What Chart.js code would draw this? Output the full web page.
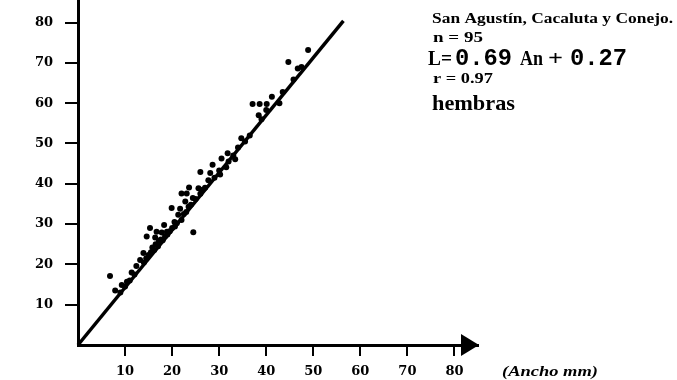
<!DOCTYPE html>
<html>
<head>
<meta charset="utf-8">
<script src="https://cdn.jsdelivr.net/npm/chart.js@4.4.1/dist/chart.umd.min.js"></script>
<style>
  body { margin: 0; background: #fff; }
  canvas { display: block; }
</style>
</head>
<body>
<canvas id="scatter_chart" width="677" height="380"></canvas>
<script>
// ancho (mm) vs largo
const ancho = [6.8, 7.9, 9.3, 10.0, 10.4, 11.4, 12.4, 13.2, 13.9, 14.6,
    15.3, 16.4, 16.7, 17.8, 18.9, 18.3, 20.6, 22.0, 21.3, 19.9,
    21.7, 23.5, 22.8, 24.4, 22.0, 23.1, 23.6, 25.6, 24.5, 27.7,
    26.0, 28.1, 30.2, 28.6, 31.5, 30.5, 33.4, 31.8, 34.7, 38.4,
    37.1, 38.6, 40.1, 40.0, 41.2, 42.8, 45.8, 46.7, 44.7, 48.9,
    14.0, 14.5, 15.0, 15.5, 15.8, 16.2, 16.5, 17.0, 17.2, 17.6,
    18.0, 18.5, 19.0, 19.5, 20.0, 20.5, 21.0, 22.5, 23.0, 24.0,
    25.0, 26.0, 27.0, 29.0, 30.0, 32.0, 33.0, 35.5, 36.5, 12.0,
    9.0, 11.0, 34.0, 39.0, 43.5, 47.5, 26.5];
const largo = [17.1, 13.5, 14.9, 14.5, 15.7, 18.0, 19.6, 21.1, 22.8, 26.9,
    29.0, 26.7, 28.1, 27.9, 28.1, 29.8, 29.4, 31.0, 32.3, 34.0,
    33.8, 34.3, 35.6, 36.5, 37.6, 37.6, 39.1, 38.9, 28.0, 40.9,
    42.9, 42.7, 42.3, 44.7, 44.1, 46.3, 46.1, 47.6, 51.3, 57.0,
    59.8, 59.8, 59.8, 58.3, 61.6, 60.0, 65.9, 68.6, 70.2, 73.2,
    20.5, 21.5, 22.3, 23.0, 24.2, 23.6, 25.0, 24.5, 25.8, 26.2,
    26.0, 27.0, 27.4, 28.2, 29.0, 30.5, 30.2, 32.5, 33.0, 34.8,
    36.2, 37.5, 39.0, 41.5, 43.3, 45.5, 47.0, 50.5, 52.0, 17.5,
    13.0, 16.0, 49.0, 56.0, 62.8, 69.0, 38.5];

// regression line end points
const rectaX = [0, 56.4];
const rectaY = [0, 80.4];

const xTicks = [10, 20, 30, 40, 50, 60, 70, 80];
const yTicks = [10, 20, 30, 40, 50, 60, 70, 80];

const serif = '"Liberation Serif", "Times New Roman", serif';
const mono = '"Liberation Mono", "Courier New", monospace';

// draw a text stretched to a given width
const drawFit = (ctx, text, x, y, w, font) => {
    ctx.save();
    ctx.font = font;
    const m = ctx.measureText(text).width;
    ctx.translate(x, y);
    ctx.scale(w / m, 1);
    ctx.fillText(text, 0, 0);
    ctx.restore();
}

const extras = {
    id: 'extras',
    afterDraw: (chart) => {
        const ctx = chart.ctx;
        const xs = chart.scales.x;
        const ys = chart.scales.y;
        const tip = xs.getPixelForValue(xs.max);
        const base = ys.getPixelForValue(0);
        ctx.save();
        ctx.fillStyle = '#000';
        // arrow head on the x axis
        ctx.beginPath();
        ctx.moveTo(tip - 17, base - 11);
        ctx.lineTo(tip + 1, base);
        ctx.lineTo(tip - 17, base + 11);
        ctx.closePath();
        ctx.fill();

        ctx.textBaseline = 'alphabetic';
        drawFit(ctx, 'San Agustín, Cacaluta y Conejo.', 432, 23, 241, 'bold 15px ' + serif);
        drawFit(ctx, 'n = 95', 433, 42, 50, 'bold 15px ' + serif);
        drawFit(ctx, 'L=', 428, 65, 24, 'bold 21px ' + serif);
        drawFit(ctx, '0.69', 455, 65, 57, 'bold 23px ' + mono);
        drawFit(ctx, 'An', 520, 65, 23, 'bold 21px ' + serif);
        drawFit(ctx, '+', 548, 65, 15, 'bold 21px ' + serif);
        drawFit(ctx, '0.27', 570, 65, 57, 'bold 23px ' + mono);
        drawFit(ctx, 'r = 0.97', 433, 83, 60, 'bold 15px ' + serif);
        drawFit(ctx, 'hembras', 432, 110, 83, 'bold 22px ' + serif);
        drawFit(ctx, '(Ancho mm)', 502, 376, 96, 'italic bold 14px ' + serif);
        ctx.restore();
    }
};

const noPad = (s) => {
    s.paddingTop = 0;
    s.paddingBottom = 0;
    s.paddingLeft = 0;
    s.paddingRight = 0;
}

const puntos = ancho.map((a, i) => ({x: a, y: largo[i]}));
const recta = rectaX.map((a, i) => ({x: a, y: rectaY[i]}));

new Chart('scatter_chart', {
    type: 'scatter',
    data: {
        datasets: [{
            data: puntos,
            backgroundColor: '#000',
            borderColor: '#000',
            pointRadius: 3,
            borderWidth: 0,
            clip: false
        }, {
            type: 'line',
            data: recta,
            borderColor: '#000',
            borderWidth: 3.5,
            pointRadius: 0,
            fill: false,
            clip: false
        }]
    },
    plugins: [extras],
    options: {
        responsive: false,
        animation: false,
        devicePixelRatio: 1,
        layout: {autoPadding: false, padding: {top: 0, right: 199, bottom: 0, left: 0}},
        plugins: {legend: {display: false}, tooltip: {enabled: false}},
        scales: {
            x: {
                type: 'linear',
                min: 0,
                max: 85,
                afterFit: (s) => { s.height = 35; noPad(s); },
                afterBuildTicks: (s) => { s.ticks = xTicks.map(v => ({value: v})); },
                border: {display: true, color: '#000', width: 3},
                grid: {drawOnChartArea: false, drawTicks: true, tickLength: 11, color: '#000', lineWidth: 2},
                ticks: {color: '#000', padding: 8, maxRotation: 0,
                        font: {family: '"DejaVu Serif"', weight: 'bold', size: 13}}
            },
            y: {
                type: 'linear',
                min: 0,
                max: 85.6,
                afterFit: (s) => { s.width = 78; noPad(s); },
                afterBuildTicks: (s) => { s.ticks = yTicks.map(v => ({value: v})); },
                border: {display: true, color: '#000', width: 3},
                grid: {drawOnChartArea: false, drawTicks: true, tickLength: 13, color: '#000', lineWidth: 2},
                ticks: {color: '#000', padding: 12,
                        font: {family: '"DejaVu Serif"', weight: 'bold', size: 13}}
            }
        }
    }
});
</script>
</body>
</html>
